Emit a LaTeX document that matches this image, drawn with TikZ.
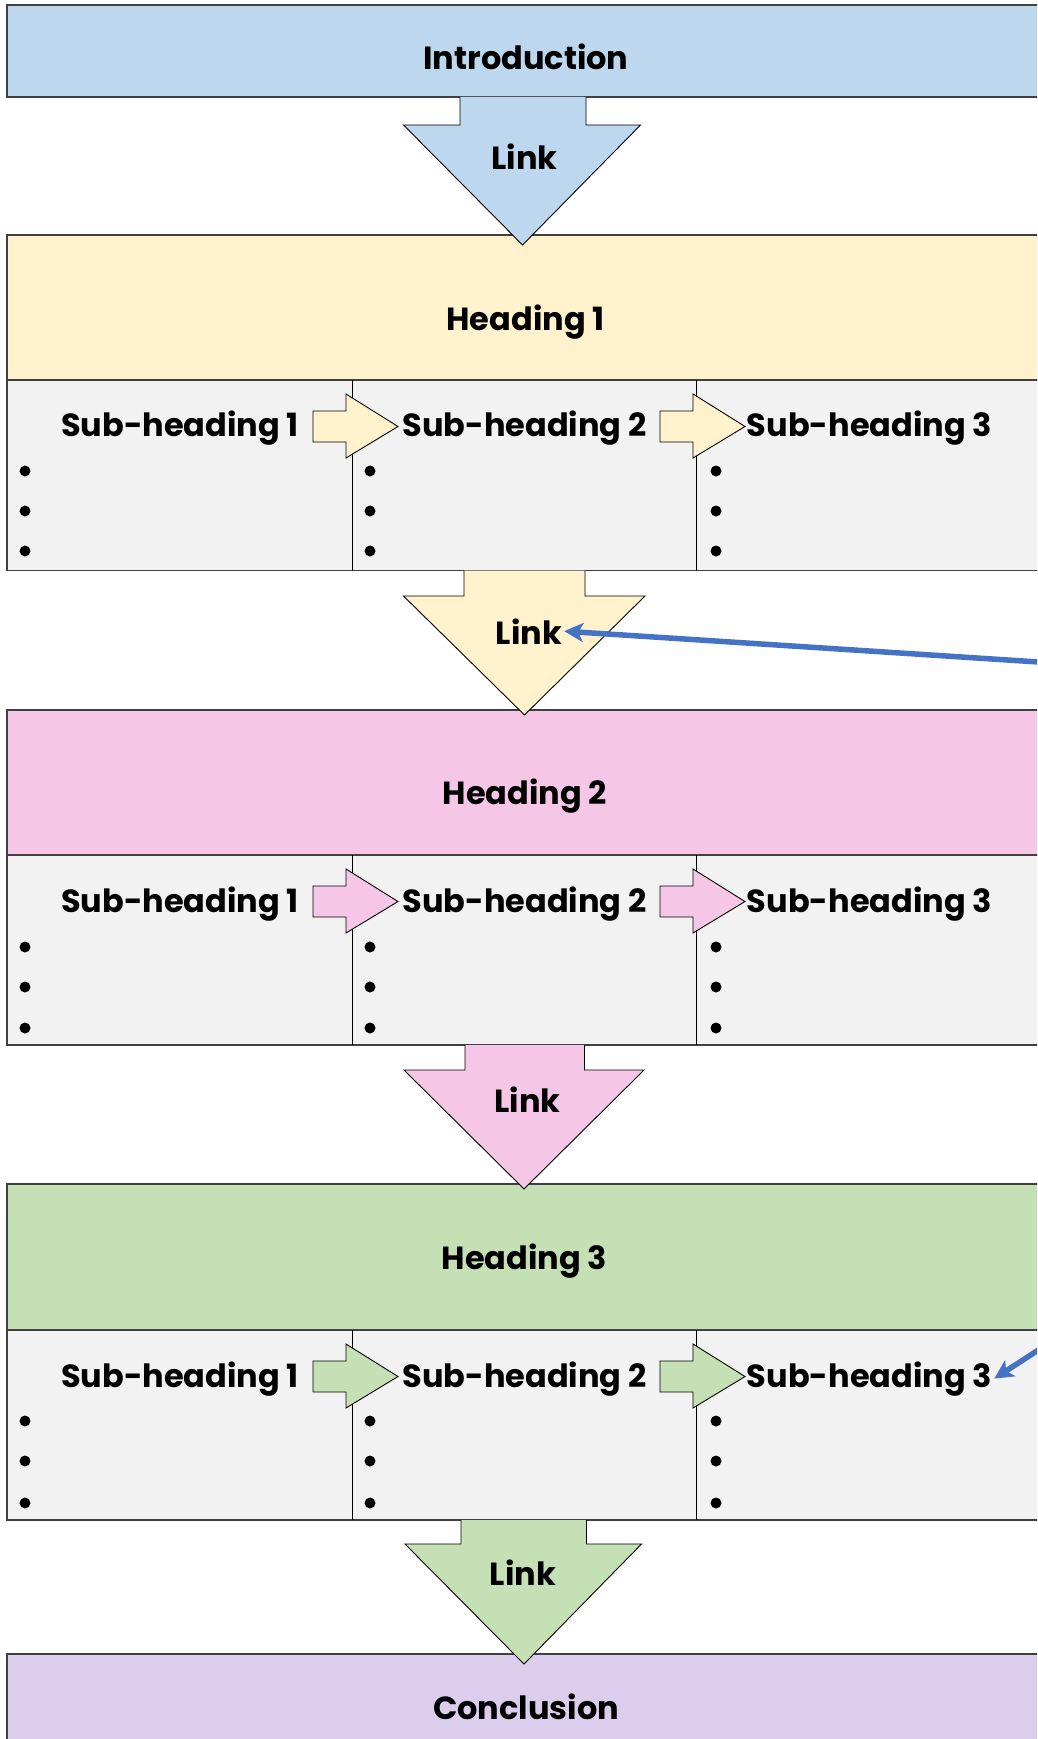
\documentclass[tikz,border=0pt]{standalone}
\usepackage{fontspec}
\setmainfont{Poppins}
\usetikzlibrary{arrows.meta}

\definecolor{introblue}{HTML}{BDD7EE}
\definecolor{headyellow}{HTML}{FFF2CC}
\definecolor{headpink}{HTML}{F6C6E7}
\definecolor{headgreen}{HTML}{C5E0B4}
\definecolor{conclpurple}{HTML}{DCCDED}
\definecolor{rowgrey}{HTML}{F2F2F2}
\definecolor{noteblue}{HTML}{4472C4}
\definecolor{edgegrey}{HTML}{404040}

\begin{document}
\begin{tikzpicture}[x=1pt,y=-1pt,line join=miter,
  band/.style={draw=edgegrey,line width=1.5pt},
  link/.style={draw=black,line width=0.9pt},
  txt/.style={font=\bfseries\fontsize{32}{38}\selectfont,inner sep=2pt},
  note/.style={draw=noteblue,line width=5.5pt,-{Stealth[length=19pt,width=19pt,inset=5pt]}}]

\useasboundingbox (0,0) rectangle (1037,1739);
\clip (0,0) rectangle (1037,1739);

\filldraw[band,fill=introblue] (7,5) rectangle (1060,97);

\filldraw[band,fill=headyellow] (7,235) rectangle (1060,380);
\filldraw[band,fill=rowgrey] (7,380) rectangle (1060,570.5);
\draw[line width=1pt] (352,380) -- (352,570.5);
\draw[line width=1pt] (696.5,380) -- (696.5,570.5);

\filldraw[band,fill=headpink] (7,710) rectangle (1060,855);
\filldraw[band,fill=rowgrey] (7,855) rectangle (1060,1045);
\draw[line width=1pt] (352,855) -- (352,1045);
\draw[line width=1pt] (696.5,855) -- (696.5,1045);

\filldraw[band,fill=headgreen] (7,1184) rectangle (1060,1330);
\filldraw[band,fill=rowgrey] (7,1330) rectangle (1060,1520);
\draw[line width=1pt] (352,1330) -- (352,1520);
\draw[line width=1pt] (696.5,1330) -- (696.5,1520);

\filldraw[band,fill=conclpurple] (7,1654) rectangle (1060,1760);

\filldraw[link,fill=introblue] (460,97) -- (460,125) -- (403.5,125) -- (522.5,245) -- (640.5,125) -- (586,125) -- (586,97);
\filldraw[link,fill=headyellow] (464,570.5) -- (464,596) -- (403.5,596) -- (524.5,715) -- (645,596) -- (585,596) -- (585,570.5);
\filldraw[link,fill=headpink] (465,1045) -- (465,1070) -- (404,1070) -- (524,1189) -- (644,1070) -- (584.5,1070) -- (584.5,1045);
\filldraw[link,fill=headgreen] (461,1520) -- (461,1544) -- (405,1544) -- (524,1664) -- (641.5,1544) -- (586.5,1544) -- (586.5,1520);

\filldraw[link,fill=headyellow] (313,411) -- (346,411) -- (346,394) -- (398,426.5) -- (346,458) -- (346,442) -- (313,442) -- cycle;
\filldraw[link,fill=headyellow] (660,411) -- (693,411) -- (693,394) -- (745,426.5) -- (693,458) -- (693,442) -- (660,442) -- cycle;
\filldraw[link,fill=headpink] (313,886) -- (346,886) -- (346,869) -- (398,901.5) -- (346,933) -- (346,917) -- (313,917) -- cycle;
\filldraw[link,fill=headpink] (660,886) -- (693,886) -- (693,869) -- (745,901.5) -- (693,933) -- (693,917) -- (660,917) -- cycle;
\filldraw[link,fill=headgreen] (313,1361) -- (346,1361) -- (346,1344) -- (398,1376.5) -- (346,1408) -- (346,1392) -- (313,1392) -- cycle;
\filldraw[link,fill=headgreen] (660,1361) -- (693,1361) -- (693,1344) -- (745,1376.5) -- (693,1408) -- (693,1392) -- (660,1392) -- cycle;

\node[txt,anchor=base] (intro) at (526,70) {Introduction};
\node[txt,anchor=base] (link1) at (524.5,170) {Link};
\node[txt,anchor=base] (head1) at (525.5,330) {Heading 1};
\node[txt,anchor=base] (sub11) at (180,436.5) {Sub-heading 1};
\node[txt,anchor=base] (sub12) at (524.5,436.5) {Sub-heading 2};
\node[txt,anchor=base] (sub13) at (869.5,436.5) {Sub-heading 3};
\node[txt,anchor=base] (link2) at (529,644) {Link};
\node[txt,anchor=base] (head2) at (525,804) {Heading 2};
\node[txt,anchor=base] (sub21) at (180,912) {Sub-heading 1};
\node[txt,anchor=base] (sub22) at (524.5,912) {Sub-heading 2};
\node[txt,anchor=base] (sub23) at (869.5,912) {Sub-heading 3};
\node[txt,anchor=base] (link3) at (527.5,1112) {Link};
\node[txt,anchor=base] (head3) at (524.5,1269) {Heading 3};
\node[txt,anchor=base] (sub31) at (180,1387) {Sub-heading 1};
\node[txt,anchor=base] (sub32) at (524.5,1387) {Sub-heading 2};
\node[txt,anchor=base] (sub33) at (869.5,1387) {Sub-heading 3};
\node[txt,anchor=base] (link4) at (523,1585) {Link};
\node[txt,anchor=base] (concl) at (526,1719) {Conclusion};

\foreach \x in {25,370,716} \foreach \y in {471,511,551} \fill (\x,\y) circle (5.5pt);
\foreach \x in {25,370,716} \foreach \y in {947,987,1028} \fill (\x,\y) circle (5.5pt);
\foreach \x in {25,370,716} \foreach \y in {1421,1461,1503} \fill (\x,\y) circle (5.5pt);

\coordinate (n1) at (1100,666);
\coordinate (n2) at (1100,1310);
\draw[note] (n1) -- (link2.east);
\draw[note] (n2) -- (sub33.east);
\end{tikzpicture}
\end{document}
